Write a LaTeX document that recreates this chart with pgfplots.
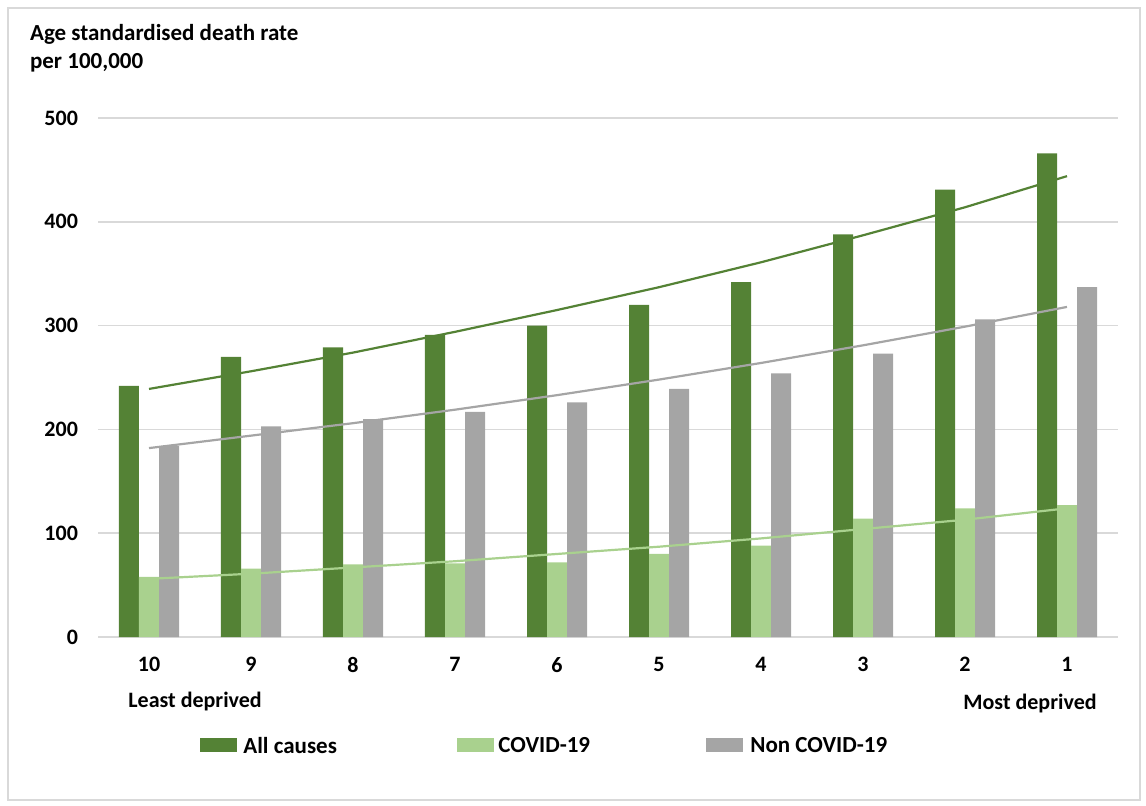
\documentclass[border=0pt]{standalone}
\usepackage{pgfplots}
\pgfplotsset{compat=1.18}
\usepackage{fontspec}
\setmainfont{Carlito}
\definecolor{allc}{HTML}{548235}
\definecolor{covid}{HTML}{A9D18E}
\definecolor{nonc}{HTML}{A5A5A5}
\definecolor{gridc}{HTML}{D9D9D9}

\begin{document}
\fontsize{11.5}{14}\selectfont\bfseries
\begin{tikzpicture}
\useasboundingbox (0,0) rectangle (573pt,-402.5pt);
\draw[gridc, line width=0.6pt] (4pt,-4pt) rectangle (570pt,-400pt);
\begin{axis}[
  at={(49pt,-318.5pt)}, anchor=south west,
  scale only axis, width=510pt, height=259.5pt,
  xmin=-0.5, xmax=9.5, ymin=0, ymax=500,
  xtick={0,...,9}, xticklabels={10,9,8,7,6,5,4,3,2,1},
  ytick={0,100,...,500},
  axis line style={draw=none},
  major tick length=0pt,
  ymajorgrids, grid style={gridc, line width=0.75pt},
  tick label style={font=\fontsize{11}{13}\selectfont\bfseries},
  yticklabel style={xshift=-6pt},
  xticklabel style={yshift=-6pt},
  /pgf/number format/assume math mode=true,
  clip=false,
]
% bars: categories 10 ... 1 at x = 0 ... 9
\addplot[ybar, bar width=10pt, bar shift=-10pt, fill=allc, draw=none] coordinates {
  (0,242) (1,270) (2,279) (3,291) (4,300) (5,320) (6,342) (7,388) (8,431) (9,466)};
\addplot[ybar, bar width=10pt, bar shift=0pt, fill=covid, draw=none] coordinates {
  (0,58) (1,66) (2,70) (3,71) (4,72) (5,80) (6,88) (7,114) (8,124) (9,127)};
\addplot[ybar, bar width=10pt, bar shift=10pt, fill=nonc, draw=none] coordinates {
  (0,184) (1,203) (2,210) (3,217) (4,226) (5,239) (6,254) (7,273) (8,306) (9,337)};
% trend lines
\addplot[allc, line width=1.1pt, mark=none] coordinates {
  (0,239) (1,256) (2,274) (3,294) (4,315) (5,337) (6,361) (7,387) (8,414) (9,444)};
\addplot[nonc, line width=1.1pt, mark=none] coordinates {
  (0,182) (1,194) (2,206) (3,219) (4,233) (5,248) (6,264) (7,281) (8,299) (9,318)};
\addplot[covid, line width=1.1pt, mark=none] coordinates {
  (0,56) (1,61) (2,67) (3,73) (4,80) (5,87) (6,95) (7,104) (8,113) (9,124)};
\end{axis}
% y title
\node[anchor=west] at (11pt,-17pt) {Age standardised death rate};
\node[anchor=west] at (11pt,-31.5pt) {per 100,000};
% axis end labels
{\fontsize{11}{13}\selectfont
\node[anchor=west, inner sep=0pt] at (64pt,-350.5pt) {Least deprived};
\node[anchor=east, inner sep=0pt] at (548.5pt,-351.5pt) {Most deprived};
}
% legend
\fill[allc] (100pt,-369pt) rectangle (118.5pt,-376pt);
\node[anchor=west, inner sep=0pt] at (121.5pt,-372.5pt) {All causes};
\fill[covid] (228.5pt,-369pt) rectangle (247pt,-376pt);
\node[anchor=west, inner sep=0pt] at (249pt,-372.5pt) {COVID-19};
\fill[nonc] (353pt,-369pt) rectangle (371.5pt,-376pt);
\node[anchor=west, inner sep=0pt] at (375pt,-372.5pt) {Non COVID-19};
\end{tikzpicture}
\end{document}
